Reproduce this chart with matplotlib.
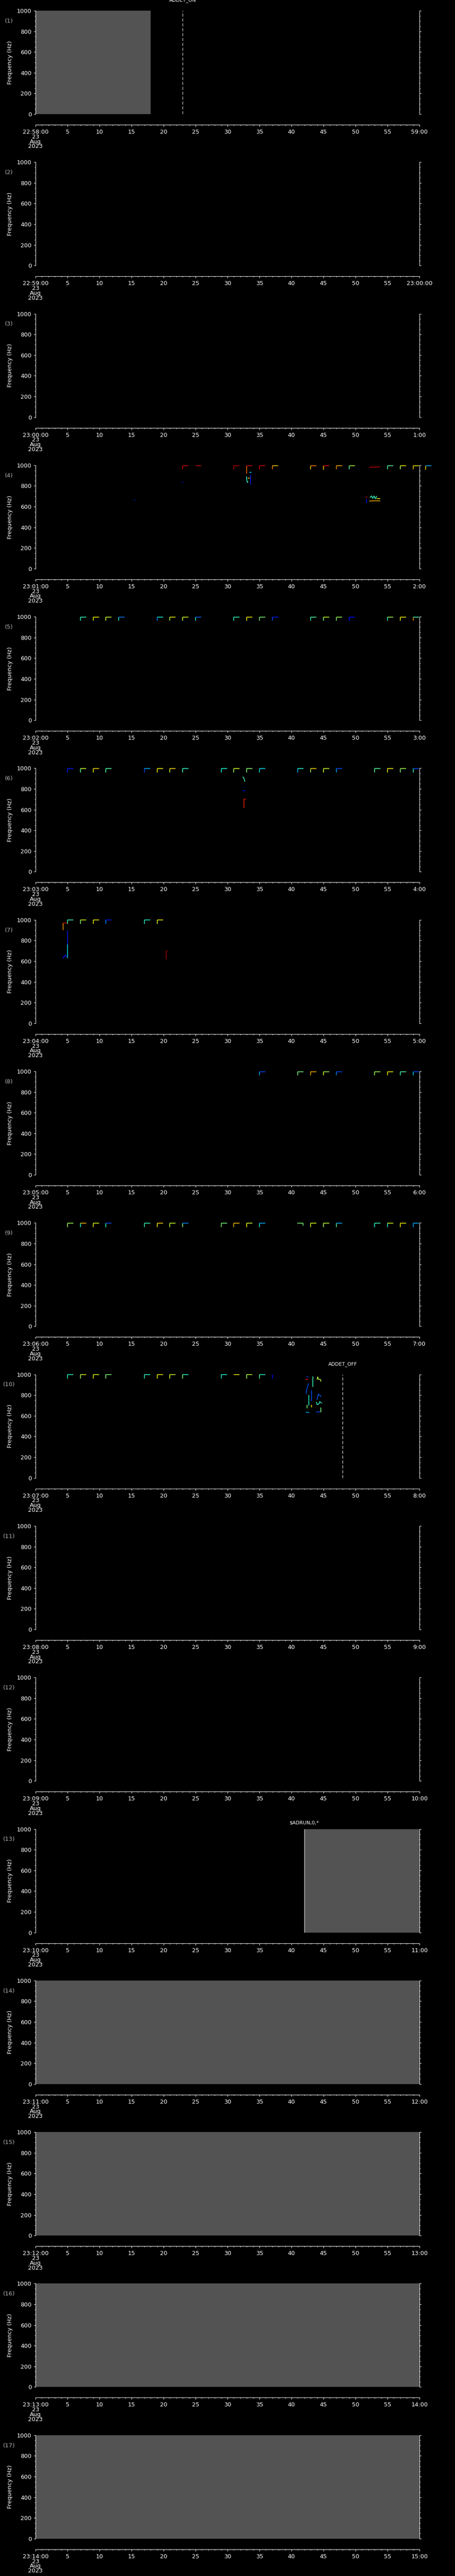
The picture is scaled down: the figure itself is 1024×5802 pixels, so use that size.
import matplotlib
matplotlib.use('Agg')
import matplotlib.pyplot as plt
from matplotlib.ticker import MultipleLocator, FixedLocator
import numpy as np

# ---------------- data ----------------
N_PANELS = 17
panel_numbers = [f"({i})" for i in range(1, N_PANELS + 1)]
left_labels = ["22:58:00", "22:59:00"] + [f"23:{h:02d}:00" for h in range(0, 15)]
right_labels = ["59:00", "23:00:00"] + [f"{h}:00" for h in range(1, 16)]
date_lines = "23\nAug\n2023"
mid_tick_values = [5, 10, 15, 20, 25, 30, 35, 40, 45, 50, 55]
y_tick_values = [0, 200, 400, 600, 800, 1000]

# gray (no data) spans per panel: (start, end) in axis units
gray_spans = {1: (0, 18), 13: (42, 60), 14: (0, 60), 15: (0, 60), 16: (0, 60), 17: (0, 60)}

# event markers: panel -> (position, label, dashed?)
events = {1: (23, "ADDET_ON", True), 10: (48, "ADDET_OFF", True), 13: (42, "$ADRUN,0,*", False)}

# step marks near 1000 Hz: start minute, vertical colour value, horizontal colour value (jet scale)
p4_min = [23, 25, 31, 33, 35, 37, 43, 45, 47, 49, 55, 57, 59, 61]
p4_vc = [0.93, None, 0.95, 0.8, 0.92, 0.78, 0.68, 0.7, 0.75, 0.45, 0.45, 0.55, 0.68, 0.68]
p4_hc = [0.93, 0.93, 0.95, 0.92, 0.92, 0.68, 0.78, 0.9, 0.72, 0.55, 0.45, 0.65, 0.66, 0.3]
p4_vlow = [960, None, 960, 919, 960, 960, 960, 955, 960, 960, 960, 960, 960, 955]

p5_min = [7, 9, 11, 13, 19, 21, 23, 25, 31, 33, 35, 37, 43, 45, 47, 49, 55, 57, 59]
p5_vc = [0.4, 0.65, 0.6, 0.38, 0.25, 0.55, 0.6, 0.4, 0.4, 0.65, 0.5, 0.2, 0.4, 0.5, 0.5, 0.15, 0.38, 0.65, 0.75]
p5_hc = [0.42, 0.65, 0.6, 0.25, 0.38, 0.65, 0.6, 0.22, 0.42, 0.65, 0.5, 0.15, 0.45, 0.6, 0.55, 0.12, 0.55, 0.65, 0.42]

p6_min = [5, 7, 9, 11, 17, 19, 21, 23, 29, 31, 33, 35, 41, 43, 45, 47, 53, 55, 57, 59]
p6_vc = [0.15, 0.45, 0.65, 0.45, 0.2, 0.65, 0.6, 0.42, 0.38, 0.55, 0.5, 0.35, 0.3, 0.55, 0.6, 0.3, 0.45, 0.65, 0.5, 0.4]
p6_hc = [0.15, 0.6, 0.68, 0.45, 0.3, 0.65, 0.68, 0.4, 0.38, 0.62, 0.52, 0.35, 0.4, 0.68, 0.6, 0.2, 0.45, 0.65, 0.55, 0.2]

p7_min = [5, 7, 9, 11, 17, 19]
p7_vc = [0.45, 0.5, 0.65, 0.25, 0.4, 0.62]
p7_hc = [0.42, 0.62, 0.65, 0.15, 0.4, 0.65]

p8_min = [35, 41, 43, 45, 47, 53, 55, 57, 59]
p8_vc = [0.3, 0.5, 0.72, 0.6, 0.25, 0.55, 0.65, 0.42, 0.35]
p8_hc = [0.2, 0.5, 0.72, 0.55, 0.2, 0.55, 0.65, 0.45, 0.2]

p9_min = [5, 7, 9, 11, 17, 19, 21, 23, 29, 31, 33, 35, 43, 45, 47, 53, 55, 57, 59]
p9_vc = [0.55, 0.4, 0.65, 0.4, 0.42, 0.65, 0.58, 0.5, 0.5, 0.72, 0.65, 0.38, 0.6, 0.55, 0.45, 0.4, 0.4, 0.65, 0.3]
p9_hc = [0.55, 0.7, 0.62, 0.2, 0.42, 0.68, 0.6, 0.25, 0.5, 0.7, 0.6, 0.3, 0.62, 0.58, 0.3, 0.42, 0.62, 0.65, 0.3]

p10_min = [5, 7, 9, 11, 17, 19, 21, 23, 29, 31, 33, 35, 37]
p10_vc = [0.4, 0.55, 0.65, 0.5, 0.4, 0.65, 0.62, 0.5, 0.38, None, 0.55, 0.45, 0.12]
p10_hc = [0.4, 0.62, 0.62, 0.5, 0.4, 0.65, 0.62, 0.4, 0.38, 0.65, 0.58, 0.4, None]

# other emission traces: (minutes, Hz, colour value)
p4_traces = [
    ([52.2, 53.0, 53.8], [980, 983, 985], 0.93),
    ([33.6, 33.6], [904, 816], 0.15),
    ([32.95, 33.0, 33.1, 33.2], [890, 860, 833, 840], 0.4),
    ([33.2, 33.45], [873, 873], 0.72),
    ([33.45, 33.65], [930, 930], 0.35),
    ([22.9, 23.0], [836, 836], 0.15),
    ([15.4, 15.5], [661, 663], 0.15),
    ([51.6, 51.8], [693, 690], 0.93),
    ([51.75, 51.75], [669, 640], 0.15),
    ([52.2, 53.0, 53.8], [654, 656, 655], 0.72),
    ([52.3, 52.5, 52.7, 52.9, 53.1, 53.3], [690, 704, 680, 704, 676, 700], 0.42),
    ([53.3, 53.8], [679, 679], 0.65),
]
p6_traces = [
    ([32.4, 32.55, 32.7], [914, 910, 874], 0.42),
    ([32.4, 32.7], [784, 784], 0.12),
    ([32.6, 32.6, 32.75], [620, 700, 700], 0.88),
]
p7_traces = [
    ([4.3, 4.3], [904, 967], 0.75),
    ([4.3, 4.83], [970, 970], 0.93),
    ([4.97, 4.97], [894, 760], 0.15),
    ([4.97, 4.97], [760, 636], 0.35),
    ([4.3, 4.5, 4.7, 4.85], [630, 650, 660, 640], 0.15),
    ([20.4, 20.4, 20.55], [620, 700, 700], 0.97),
]
p9_traces = [
    ([41.0, 41.8, 41.8], [997, 997, 975], 0.5),
]
p10_traces = [
    ([42.3, 42.4, 42.66], [816, 859, 909], 0.2),
    ([42.44, 42.44], [704, 675], 0.5),
    ([42.7, 42.7], [795, 704], 0.4),
    ([43.3, 43.3], [977, 881], 0.42),
    ([43.1, 43.1], [845, 744], 0.2),
    ([43.1, 43.1], [704, 687], 0.65),
    ([42.2, 42.6], [953, 953], 0.9),
    ([42.4, 42.6], [978, 978], 0.2),
    ([42.3, 42.7], [632, 632], 0.3),
    ([44.0, 44.1, 44.2, 44.5, 44.6], [953, 977, 953, 953, 934], 0.58),
    ([44.0, 44.2, 44.5, 44.6], [759, 809, 795, 787], 0.22),
    ([43.9, 44.0, 44.3, 44.4, 44.7], [730, 708, 716, 737, 723], 0.4),
    ([43.9, 44.5], [636, 641], 0.2),
    ([44.6, 44.6], [675, 636], 0.5),
]

step_marks = {
    4: (p4_min, p4_vc, p4_hc, p4_vlow),
    5: (p5_min, p5_vc, p5_hc, None),
    6: (p6_min, p6_vc, p6_hc, None),
    7: (p7_min, p7_vc, p7_hc, None),
    8: (p8_min, p8_vc, p8_hc, None),
    9: (p9_min, p9_vc, p9_hc, None),
    10: (p10_min, p10_vc, p10_hc, None),
}
traces = {4: p4_traces, 6: p6_traces, 7: p7_traces, 9: p9_traces, 10: p10_traces}

MARK_LOW = 960
MARK_TOP = 997
MARK_LEN = 0.9

# ---------------- figure ----------------
W, H, DPI = 1024, 5802, 100
PT = 72.0 / DPI  # points per pixel
fig = plt.figure(figsize=(W / DPI, H / DPI), dpi=DPI, facecolor='black')
cmap = plt.get_cmap('jet')
pitch = H / N_PANELS
FS = 13 * PT
GRAY = '#535353'

for k in range(1, N_PANELS + 1):
    off = (k - 1) * pitch
    top, bot = off + 24, off + 257
    ax = fig.add_axes([80 / W, 1 - bot / H, 864 / W, (bot - top) / H])
    ax.set_facecolor('black')
    ax.set_xlim(0, 60)
    ax.set_ylim(0, 1000)

    for s in ['left', 'right', 'bottom']:
        ax.spines[s].set_color('white')
        ax.spines[s].set_linewidth(1 * PT)
    ax.spines['top'].set_visible(False)
    ax.spines['bottom'].set_position(('outward', 24 * PT))

    ax.yaxis.set_major_locator(FixedLocator(y_tick_values))
    ax.yaxis.set_minor_locator(MultipleLocator(50))
    ax.tick_params(axis='y', which='both', direction='out', colors='white',
                   left=True, right=True, labelleft=True, labelright=False,
                   width=1 * PT, labelsize=FS, pad=5 * PT)
    ax.tick_params(axis='y', which='major', length=4 * PT)
    ax.tick_params(axis='y', which='minor', length=2 * PT)

    xt = [0] + mid_tick_values + [60]
    ax.xaxis.set_major_locator(FixedLocator(xt))
    ax.xaxis.set_minor_locator(MultipleLocator(1))
    xl = [f"{left_labels[k-1]}\n{date_lines}"] + [str(v) for v in mid_tick_values] + [right_labels[k-1]]
    ax.set_xticklabels(xl)
    ax.tick_params(axis='x', which='both', direction='out', colors='white',
                   bottom=True, top=False, width=1 * PT, labelsize=FS, pad=6 * PT)
    ax.tick_params(axis='x', which='major', length=4 * PT)
    ax.tick_params(axis='x', which='minor', length=2.3 * PT)
    for lbl in ax.get_xticklabels():
        lbl.set_linespacing(0.78)

    ax.text(-0.066, 0.5, 'Frequency (Hz)', rotation=90, ha='center', va='center',
            color='white', fontsize=FS, transform=ax.transAxes)
    ax.text(-0.069, 0.90, panel_numbers[k - 1], ha='center', va='center',
            color='#b0b0b0', fontsize=FS, transform=ax.transAxes)

    if k in gray_spans:
        a, b = gray_spans[k]
        ax.axvspan(a, b, color=GRAY, lw=0, zorder=0)

    if k in events:
        pos, lab, dashed = events[k]
        ax.axvline(pos, color='white', lw=1 * PT,
                   linestyle=(0, (7, 4)) if dashed else '-', zorder=3)
        ax.text(pos, 1000, lab, ha='center', va='bottom', color='white',
                fontsize=11 * PT, transform=ax.transData,
                position=(pos, 1000 + (18 if dashed else 9) / 0.233))

    lw = 1.6 * PT
    if k in step_marks:
        mins, vcs, hcs, lows = step_marks[k]
        for i, t in enumerate(mins):
            low = lows[i] if lows is not None and lows[i] is not None else MARK_LOW
            if vcs[i] is not None:
                ax.plot([t, t], [low, MARK_TOP], color=cmap(vcs[i]), lw=lw,
                        clip_on=False, solid_capstyle='butt', zorder=4)
            if hcs[i] is not None:
                ax.plot([t, t + MARK_LEN], [MARK_TOP, MARK_TOP], color=cmap(hcs[i]),
                        lw=lw, clip_on=False, solid_capstyle='butt', zorder=4)
    if k in traces:
        for xs, ys, c in traces[k]:
            ax.plot(xs, ys, color=cmap(c), lw=lw, clip_on=False, zorder=4)

fig.savefig('out.png', dpi=DPI, facecolor='black')
